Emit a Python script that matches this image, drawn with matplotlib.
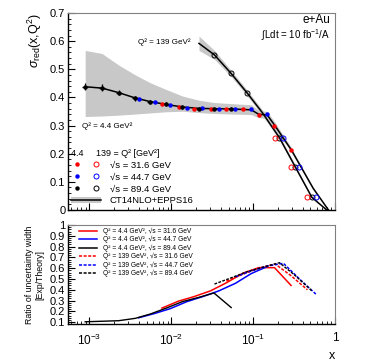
import numpy as np
import matplotlib.pyplot as plt
from matplotlib.legend_handler import HandlerTuple
from matplotlib.patches import Patch
from matplotlib.lines import Line2D
from matplotlib.ticker import MultipleLocator, LogLocator, NullFormatter, FuncFormatter

plt.rcParams['font.family'] = ['Liberation Sans', 'DejaVu Sans']
plt.rcParams['mathtext.fontset'] = 'custom'
plt.rcParams['mathtext.rm'] = 'Liberation Sans'
plt.rcParams['mathtext.it'] = 'Liberation Sans:italic'

# pseudo-data, Q^2 = 4.4 GeV^2 (filled), one set per sqrt(s)
x_lo_89 = [8.9e-4, 1.43e-3, 2.28e-3, 3.64e-3, 5.55e-3, 8.7e-3, 1.37e-2, 2.18e-2, 3.32e-2, 5.39e-2]
y_lo_89 = [0.438, 0.435, 0.417, 0.397, 0.383, 0.376, 0.365, 0.360, 0.360, 0.360]
e_lo_89 = [0.012, 0.011, 0.010, 0.009, 0.008, 0.007, 0.007, 0.006, 0.006, 0.006]
x_lo_45 = [3.99e-3, 6.26e-3, 9.73e-3, 1.55e-2, 2.39e-2, 3.82e-2, 6.08e-2, 9.46e-2, 0.148]
y_lo_45 = [0.394, 0.383, 0.374, 0.364, 0.361, 0.360, 0.360, 0.360, 0.342]
x_lo_32 = [7.7e-3, 1.23e-2, 1.87e-2, 3.02e-2, 4.72e-2, 7.55e-2, 0.117, 0.182, 0.29]
y_lo_32 = [0.376, 0.365, 0.359, 0.360, 0.360, 0.359, 0.339, 0.298, 0.213]

# pseudo-data, Q^2 = 139 GeV^2 (open)
x_hi_89 = [0.0337, 0.0535, 0.0838, 0.209, 0.328, 0.52]
y_hi_89 = [0.551, 0.486, 0.417, 0.257, 0.152, 0.045]
x_hi_45 = [0.234, 0.367, 0.582]
y_hi_45 = [0.257, 0.152, 0.045]
x_hi_32 = [0.185, 0.29, 0.459]
y_hi_32 = [0.257, 0.152, 0.045]

# CT14NLO+EPPS16 predictions with uncertainty bands
th_lo_x = [8.9e-4, 1.43e-3, 2.28e-3, 3.64e-3, 5.55e-3, 8.7e-3, 1.37e-2, 2.18e-2, 3.32e-2,
           5.39e-2, 9.46e-2, 0.117, 0.148, 0.182, 0.29, 0.54, 0.83]
th_lo_y = [0.438, 0.433, 0.417, 0.398, 0.385, 0.375, 0.366, 0.361, 0.360,
           0.359, 0.356, 0.340, 0.338, 0.302, 0.215, 0.077, 0.0]
th_lo_dn = [0.332, 0.334, 0.337, 0.341, 0.345, 0.349, 0.351, 0.346, 0.343,
            0.341, 0.339, 0.328, 0.325, 0.290, 0.207, 0.073, 0.0]
th_lo_up = [0.567, 0.556, 0.515, 0.480, 0.452, 0.428, 0.405, 0.390, 0.382,
            0.378, 0.374, 0.354, 0.350, 0.314, 0.223, 0.081, 0.0]
th_hi_x = [0.0218, 0.0337, 0.0535, 0.0838, 0.13, 0.209, 0.328, 0.52, 0.79]
th_hi_y = [0.592, 0.551, 0.486, 0.417, 0.345, 0.257, 0.152, 0.045, 0.0]
th_hi_dn = [0.567, 0.535, 0.475, 0.407, 0.335, 0.249, 0.146, 0.041, 0.0]
th_hi_up = [0.618, 0.567, 0.497, 0.427, 0.355, 0.265, 0.158, 0.049, 0.0]

# ratio of uncertainty widths (lower panel)
r_lo_89 = [0.103, 0.108, 0.113, 0.135, 0.175, 0.23, 0.29, 0.33, 0.37, 0.235]
r_lo_45 = [0.14, 0.18, 0.225, 0.29, 0.335, 0.39, 0.46, 0.55, 0.615]
r_lo_32 = [0.23, 0.295, 0.335, 0.39, 0.465, 0.555, 0.605, 0.605, 0.44]
r_hi_89 = [0.453, 0.51, 0.567, 0.651, 0.53, 0.39]
rx_hi_45 = [0.0608, 0.0946, 0.148, 0.234, 0.367, 0.582]
r_hi_45 = [0.52, 0.575, 0.62, 0.645, 0.50, 0.36]
rx_hi_32 = [0.0472, 0.0755, 0.117, 0.185, 0.29, 0.459]
r_hi_32 = [0.48, 0.545, 0.60, 0.64, 0.53, 0.40]

energies = ['31.6', '44.7', '89.4']
colors = ['red', 'blue', 'k']

gray = '#c8c8c8'
fig = plt.figure(figsize=(3.74, 3.63), dpi=100)
ax1 = fig.add_axes([0.182, 0.4215, 0.714, 0.5427])
ax2 = fig.add_axes([0.182, 0.107, 0.714, 0.273])

# ---- top panel
ax1.fill_between(th_lo_x, th_lo_dn, th_lo_up, color=gray, lw=0)
ax1.fill_between(th_hi_x, th_hi_dn, th_hi_up, color=gray, lw=0)
ax1.plot(th_lo_x, th_lo_y, color='k', lw=1.1)
ax1.plot(th_hi_x, th_hi_y, color='k', lw=1.1)

ms = 3.2
f = 10 ** (3 / 82)
xe = [np.array(x_lo_89) * (1 - 1 / f), np.array(x_lo_89) * (f - 1)]
ax1.errorbar(x_lo_89, y_lo_89, yerr=e_lo_89, xerr=xe, fmt='o', color='k', ms=ms, mew=0,
             elinewidth=0.9, capsize=0, zorder=5)
ax1.plot(x_lo_45, y_lo_45, 'o', color='blue', ms=ms, mew=0, zorder=5)
ax1.plot(x_lo_32, y_lo_32, 'o', color='red', ms=ms, mew=0, zorder=5)
ax1.plot(x_hi_89, y_hi_89, 'o', mfc='none', mec='k', mew=0.7, ms=ms + 0.4, zorder=5)
ax1.plot(x_hi_45, y_hi_45, 'o', mfc='none', mec='blue', mew=0.7, ms=ms + 0.4, zorder=5)
ax1.plot(x_hi_32, y_hi_32, 'o', mfc='none', mec='red', mew=0.7, ms=ms + 0.4, zorder=5)

ax1.set_xscale('log')
ax1.set_xlim(5.5e-4, 1)
ax1.set_ylim(0, 0.7)
ax1.yaxis.set_major_locator(MultipleLocator(0.1))
ax1.yaxis.set_minor_locator(MultipleLocator(0.02))
ax1.yaxis.set_major_formatter(FuncFormatter(lambda v, p: f'{v:g}'))
ax1.xaxis.set_major_formatter(NullFormatter())
ax1.xaxis.set_minor_formatter(NullFormatter())
ax1.set_ylabel(r'$\sigma_{\rm red}$(x,Q$^2$)', loc='top', fontsize=9, labelpad=4)

ax1.text(0.981, 0.962, 'e+Au', transform=ax1.transAxes, ha='right', va='center', fontsize=8.5)
ax1.text(0.981, 0.888, r'$\int$Ldt = 10 fb$^{-1}$/A', transform=ax1.transAxes,
         ha='right', va='center', fontsize=7)
ax1.text(0.262, 0.853, 'Q² = 139 GeV²', transform=ax1.transAxes,
         ha='left', va='center', fontsize=5.8)
ax1.text(0.052, 0.426, 'Q² = 4.4 GeV²', transform=ax1.transAxes,
         ha='left', va='center', fontsize=5.8)

h = []
for c in colors:
    h.append((Line2D([], [], ls='none', marker='o', color=c, ms=ms, mew=0),
              Line2D([], [], ls='none', marker='o', mfc='none', mec=c, mew=0.7, ms=ms + 0.4)))
ct = (Patch(color=gray, lw=0), Line2D([], [], color='k', lw=1.1))
h.append(ct)
labels = [f'√s = {e} GeV' for e in energies] + ['CT14NLO+EPPS16']
leg = ax1.legend(h, labels, loc='upper left', bbox_to_anchor=(0.012, 0.31),
                 title='4.4     139 = Q² [GeV²]', title_fontsize=6.5, fontsize=6.8,
                 frameon=False, handlelength=3.2, handletextpad=0.9, labelspacing=0.3,
                 borderpad=0.0, borderaxespad=0,
                 handler_map={tuple: HandlerTuple(ndivide=None, pad=0.9),
                              ct: HandlerTuple(ndivide=1)})
leg._legend_box.align = 'left'

# ---- lower panel
dash = (0, (2, 1))
ax2.plot(x_lo_32, r_lo_32, color='red', lw=1.1)
ax2.plot(x_lo_45, r_lo_45, color='blue', lw=1.1)
ax2.plot(x_lo_89, r_lo_89, color='k', lw=1.0)
ax2.plot(rx_hi_32, r_hi_32, color='red', lw=1.1, ls=dash)
ax2.plot(rx_hi_45, r_hi_45, color='blue', lw=1.1, ls=dash)
ax2.plot(x_hi_89, r_hi_89, color='k', lw=1.0, ls=dash)

lh, ll = [], []
for q, ls in [('4.4', '-'), ('139', dash)]:
    for e, c in zip(energies, colors):
        lh.append(Line2D([], [], color=c, lw=1.1, ls=ls))
        ll.append(f'Q² = {q} GeV², √s = {e} GeV')
ax2.legend(lh, ll, loc='upper left', bbox_to_anchor=(0.04, 0.975), fontsize=4.8, frameon=False,
           handlelength=2.8, handletextpad=0.8, labelspacing=0.15, borderpad=0, borderaxespad=0)

ax2.set_xscale('log')
ax2.set_xlim(5.5e-4, 1)
ax2.set_ylim(0.081, 1.0)
ax2.yaxis.set_major_locator(MultipleLocator(0.1))
ax2.yaxis.set_minor_locator(MultipleLocator(0.02))
ax2.yaxis.set_major_formatter(FuncFormatter(lambda v, p: f'{v:g}'))
ax2.xaxis.set_major_locator(LogLocator(base=10, numticks=10))
ax2.xaxis.set_minor_locator(LogLocator(base=10, subs=np.arange(2, 10), numticks=20))
ax2.xaxis.set_minor_formatter(NullFormatter())
ax2.xaxis.set_major_formatter(FuncFormatter(
    lambda v, p: '1' if abs(v - 1) < 1e-9 else r'$10^{%d}$' % round(np.log10(v))))
ax2.set_xlabel('x', loc='right', fontsize=9, labelpad=2)
ax2.set_ylabel('Ratio of uncertainty width\n[Exp/Theory]', fontsize=6.3, labelpad=4)

for ax in (ax1, ax2):
    ax.tick_params(which='both', direction='in', top=False, right=False)
    ax.tick_params(which='major', length=5, width=0.8)
    ax.tick_params(which='minor', length=2.5, width=0.6)
    ax.tick_params(axis='y', labelsize=8, pad=2)
    ax.tick_params(axis='x', labelsize=8.5, pad=6)
    for s in ('top', 'right'):
        ax.spines[s].set_color('#808080')
    for s in ('left', 'bottom'):
        ax.spines[s].set_linewidth(1.0)

fig.savefig('out.png', dpi=100)
